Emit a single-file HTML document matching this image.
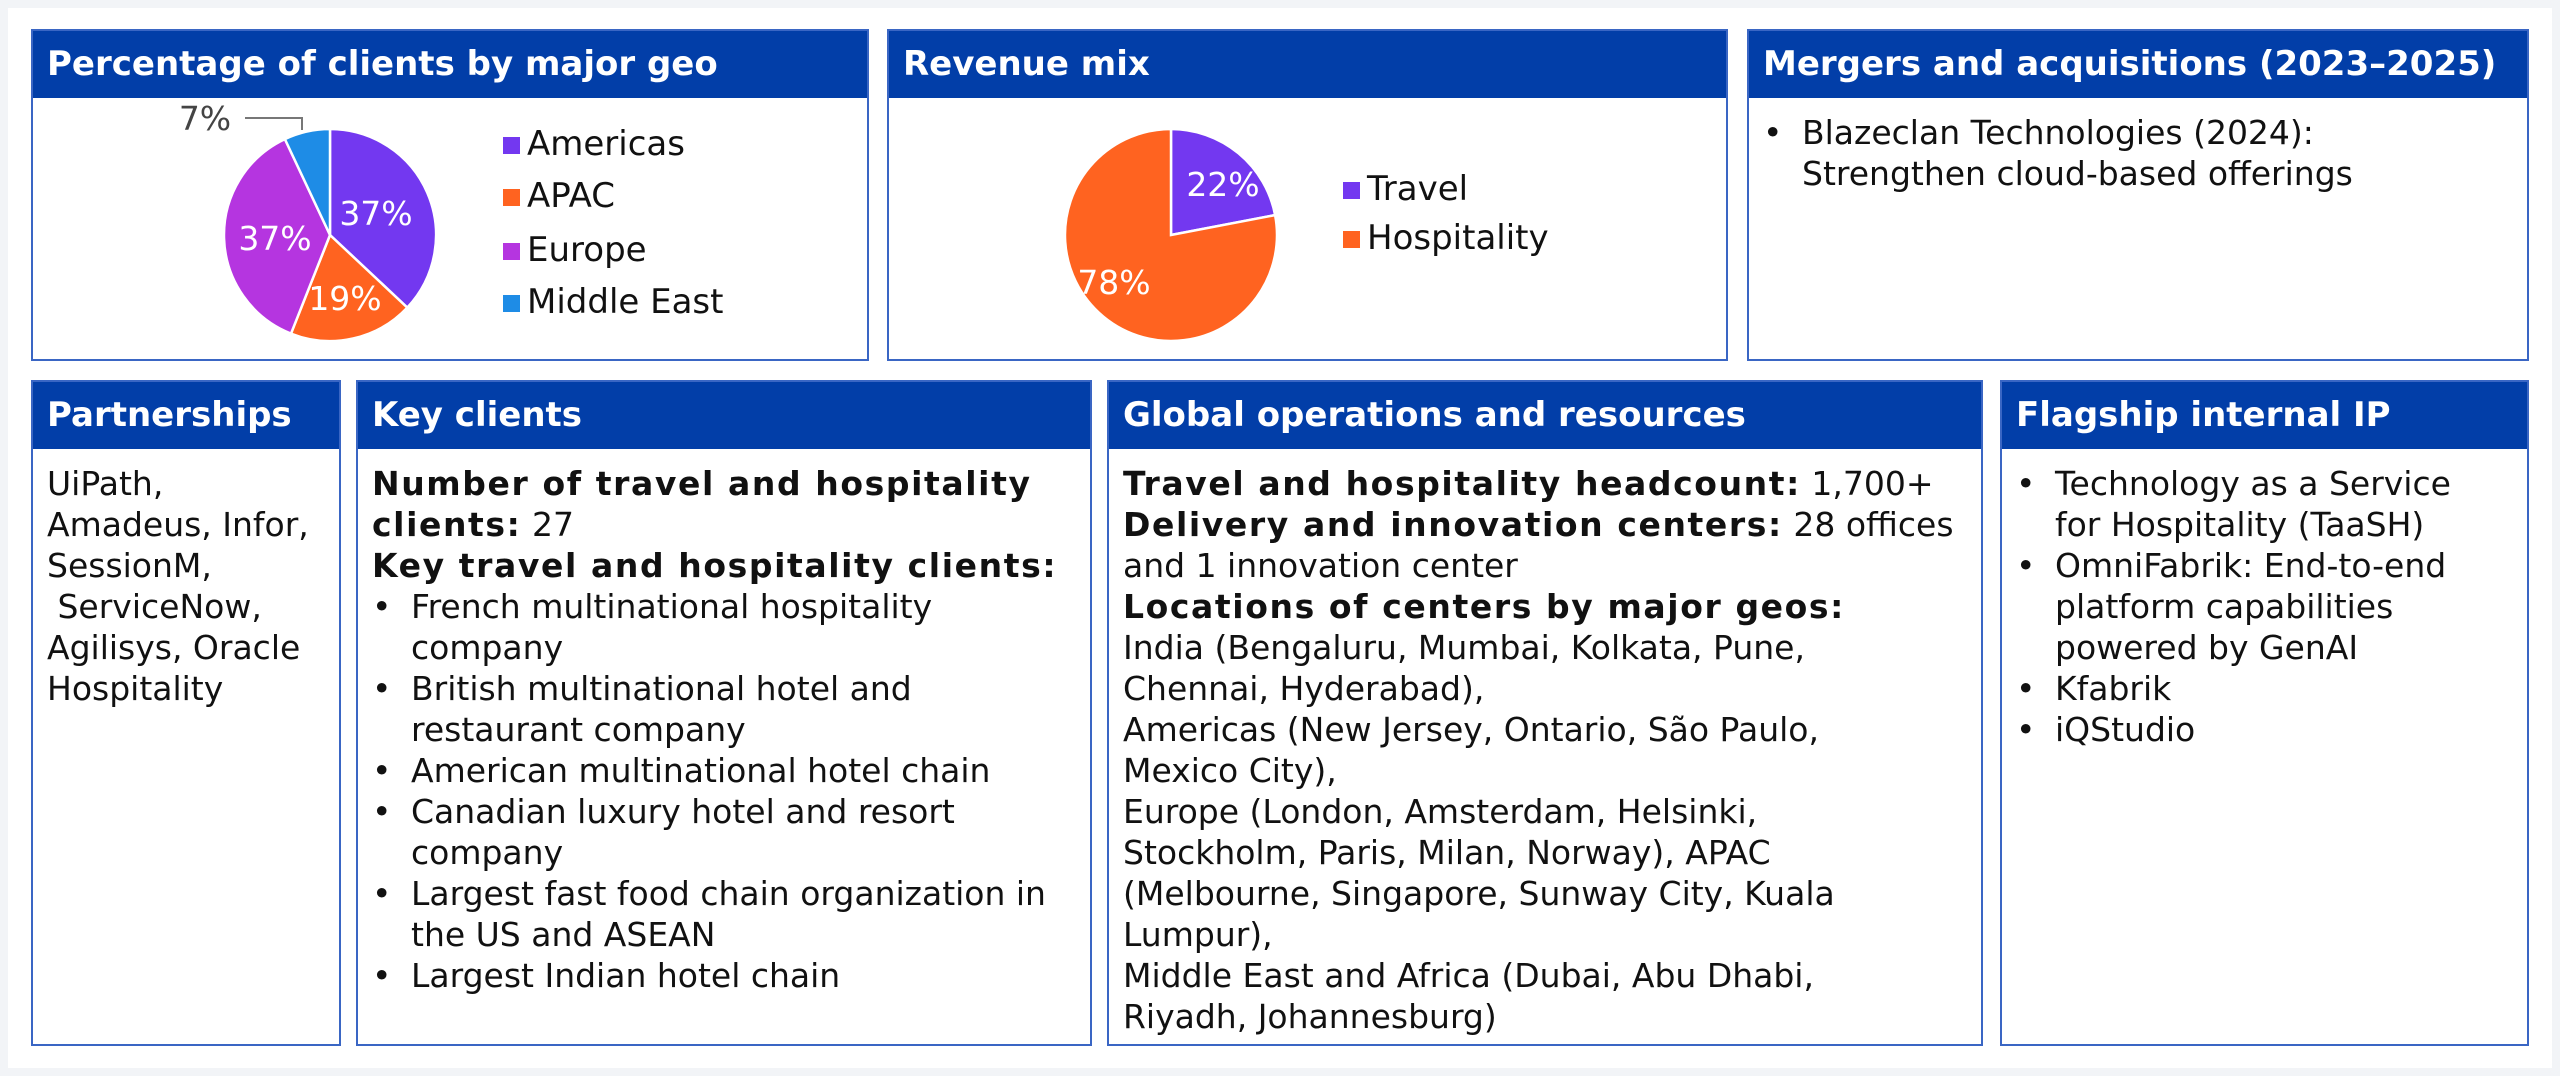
<!DOCTYPE html>
<html><head><meta charset="utf-8"><style>
body{margin:0;width:2560px;height:1076px;background:#f2f4f7;overflow:hidden;font-family:"DejaVu Sans","Liberation Sans",sans-serif;}
.wrap{position:absolute;left:8px;top:8px;width:2544px;height:1060px;background:#fff;}
.p{position:absolute;border:2px solid #3a66c4;box-sizing:border-box;background:#fff;}
.h{position:absolute;left:0;top:0;right:0;height:67px;background:#023ea8;color:#fff;font-weight:bold;font-size:34px;line-height:67px;padding-left:14px;white-space:nowrap;}
.b{position:absolute;left:14px;top:81px;right:4px;font-size:33px;line-height:41px;color:#111;white-space:nowrap;}
.b b{letter-spacing:1.6px;}
.li{position:relative;padding-left:39px;}
.li:before{content:"•";position:absolute;left:0px;}
.lg{position:absolute;font-size:34px;color:#111;white-space:nowrap;line-height:40px;}
.sq{display:inline-block;width:17px;height:17px;margin-right:7px;vertical-align:1px;}
</style></head><body>
<div class="wrap"></div>

<div class="p" style="left:31px;top:29px;width:838px;height:332px;"><div class="h">Percentage of clients by major geo</div></div>
<div class="p" style="left:887px;top:29px;width:841px;height:332px;"><div class="h">Revenue mix</div></div>
<div class="p" style="left:1747px;top:29px;width:782px;height:332px;"><div class="h">Mergers and acquisitions (2023–2025)</div>
<div class="b"><div class="li">Blazeclan Technologies (2024):<br>Strengthen cloud-based offerings</div></div></div>

<svg style="position:absolute;left:0;top:0" width="2560" height="400">
<g stroke="#fff" stroke-width="2.5">
<path d="M330,235 L330,129 A106,106 0 0 1 407.3,307.6 Z" fill="#7338f0"/>
<path d="M330,235 L407.3,307.6 A106,106 0 0 1 291,333.6 Z" fill="#ff6320"/>
<path d="M330,235 L291,333.6 A106,106 0 0 1 284.9,139.1 Z" fill="#b535e0"/>
<path d="M330,235 L284.9,139.1 A106,106 0 0 1 330,129 Z" fill="#1e8ce6"/>
<path d="M1171,235 L1171,129 A106,106 0 0 1 1275.1,215.1 Z" fill="#7338f0"/>
<path d="M1171,235 L1275.1,215.1 A106,106 0 1 1 1171,129 Z" fill="#ff6320"/>
</g>
<polyline points="245,118 302,118 302,130" fill="none" stroke="#777" stroke-width="2"/>
<g font-family="DejaVu Sans, Liberation Sans, sans-serif" font-size="33" text-anchor="middle">
<text x="205" y="130" fill="#444">7%</text>
<text x="376" y="225" fill="#fff">37%</text>
<text x="345" y="310" fill="#fff">19%</text>
<text x="275" y="250" fill="#fff">37%</text>
<text x="1223" y="196" fill="#fff">22%</text>
<text x="1114" y="294" fill="#fff">78%</text>
</g>
</svg>

<div class="lg" style="left:503px;top:124px;"><span class="sq" style="background:#7338f0"></span>Americas</div>
<div class="lg" style="left:503px;top:176px;"><span class="sq" style="background:#ff6320"></span>APAC</div>
<div class="lg" style="left:503px;top:230px;"><span class="sq" style="background:#b535e0"></span>Europe</div>
<div class="lg" style="left:503px;top:282px;"><span class="sq" style="background:#1e8ce6"></span>Middle East</div>
<div class="lg" style="left:1343px;top:169px;"><span class="sq" style="background:#7338f0"></span>Travel</div>
<div class="lg" style="left:1343px;top:218px;"><span class="sq" style="background:#ff6320"></span>Hospitality</div>

<div class="p" style="left:31px;top:380px;width:310px;height:666px;"><div class="h">Partnerships</div>
<div class="b">UiPath,<br>Amadeus, Infor,<br>SessionM,<br>&nbsp;ServiceNow,<br>Agilisys, Oracle<br>Hospitality</div></div>

<div class="p" style="left:356px;top:380px;width:736px;height:666px;"><div class="h">Key clients</div>
<div class="b"><b>Number of travel and hospitality<br>clients:</b> 27<br><b>Key travel and hospitality clients:</b>
<div class="li">French multinational hospitality<br>company</div>
<div class="li">British multinational hotel and<br>restaurant company</div>
<div class="li">American multinational hotel chain</div>
<div class="li">Canadian luxury hotel and resort<br>company</div>
<div class="li">Largest fast food chain organization in<br>the US and ASEAN</div>
<div class="li">Largest Indian hotel chain</div></div></div>

<div class="p" style="left:1107px;top:380px;width:876px;height:666px;"><div class="h">Global operations and resources</div>
<div class="b"><b>Travel and hospitality headcount:</b> 1,700+<br><b>Delivery and innovation centers:</b> 28 offices<br>and 1 innovation center<br><b>Locations of centers by major geos:</b><br>India (Bengaluru, Mumbai, Kolkata, Pune,<br>Chennai, Hyderabad),<br>Americas (New Jersey, Ontario, São Paulo,<br>Mexico City),<br>Europe (London, Amsterdam, Helsinki,<br>Stockholm, Paris, Milan, Norway), APAC<br>(Melbourne, Singapore, Sunway City, Kuala<br>Lumpur),<br>Middle East and Africa (Dubai, Abu Dhabi,<br>Riyadh, Johannesburg)</div></div>

<div class="p" style="left:2000px;top:380px;width:529px;height:666px;"><div class="h">Flagship internal IP</div>
<div class="b">
<div class="li">Technology as a Service<br>for Hospitality (TaaSH)</div>
<div class="li">OmniFabrik: End-to-end<br>platform capabilities<br>powered by GenAI</div>
<div class="li">Kfabrik</div>
<div class="li">iQStudio</div></div></div>
</body></html>
